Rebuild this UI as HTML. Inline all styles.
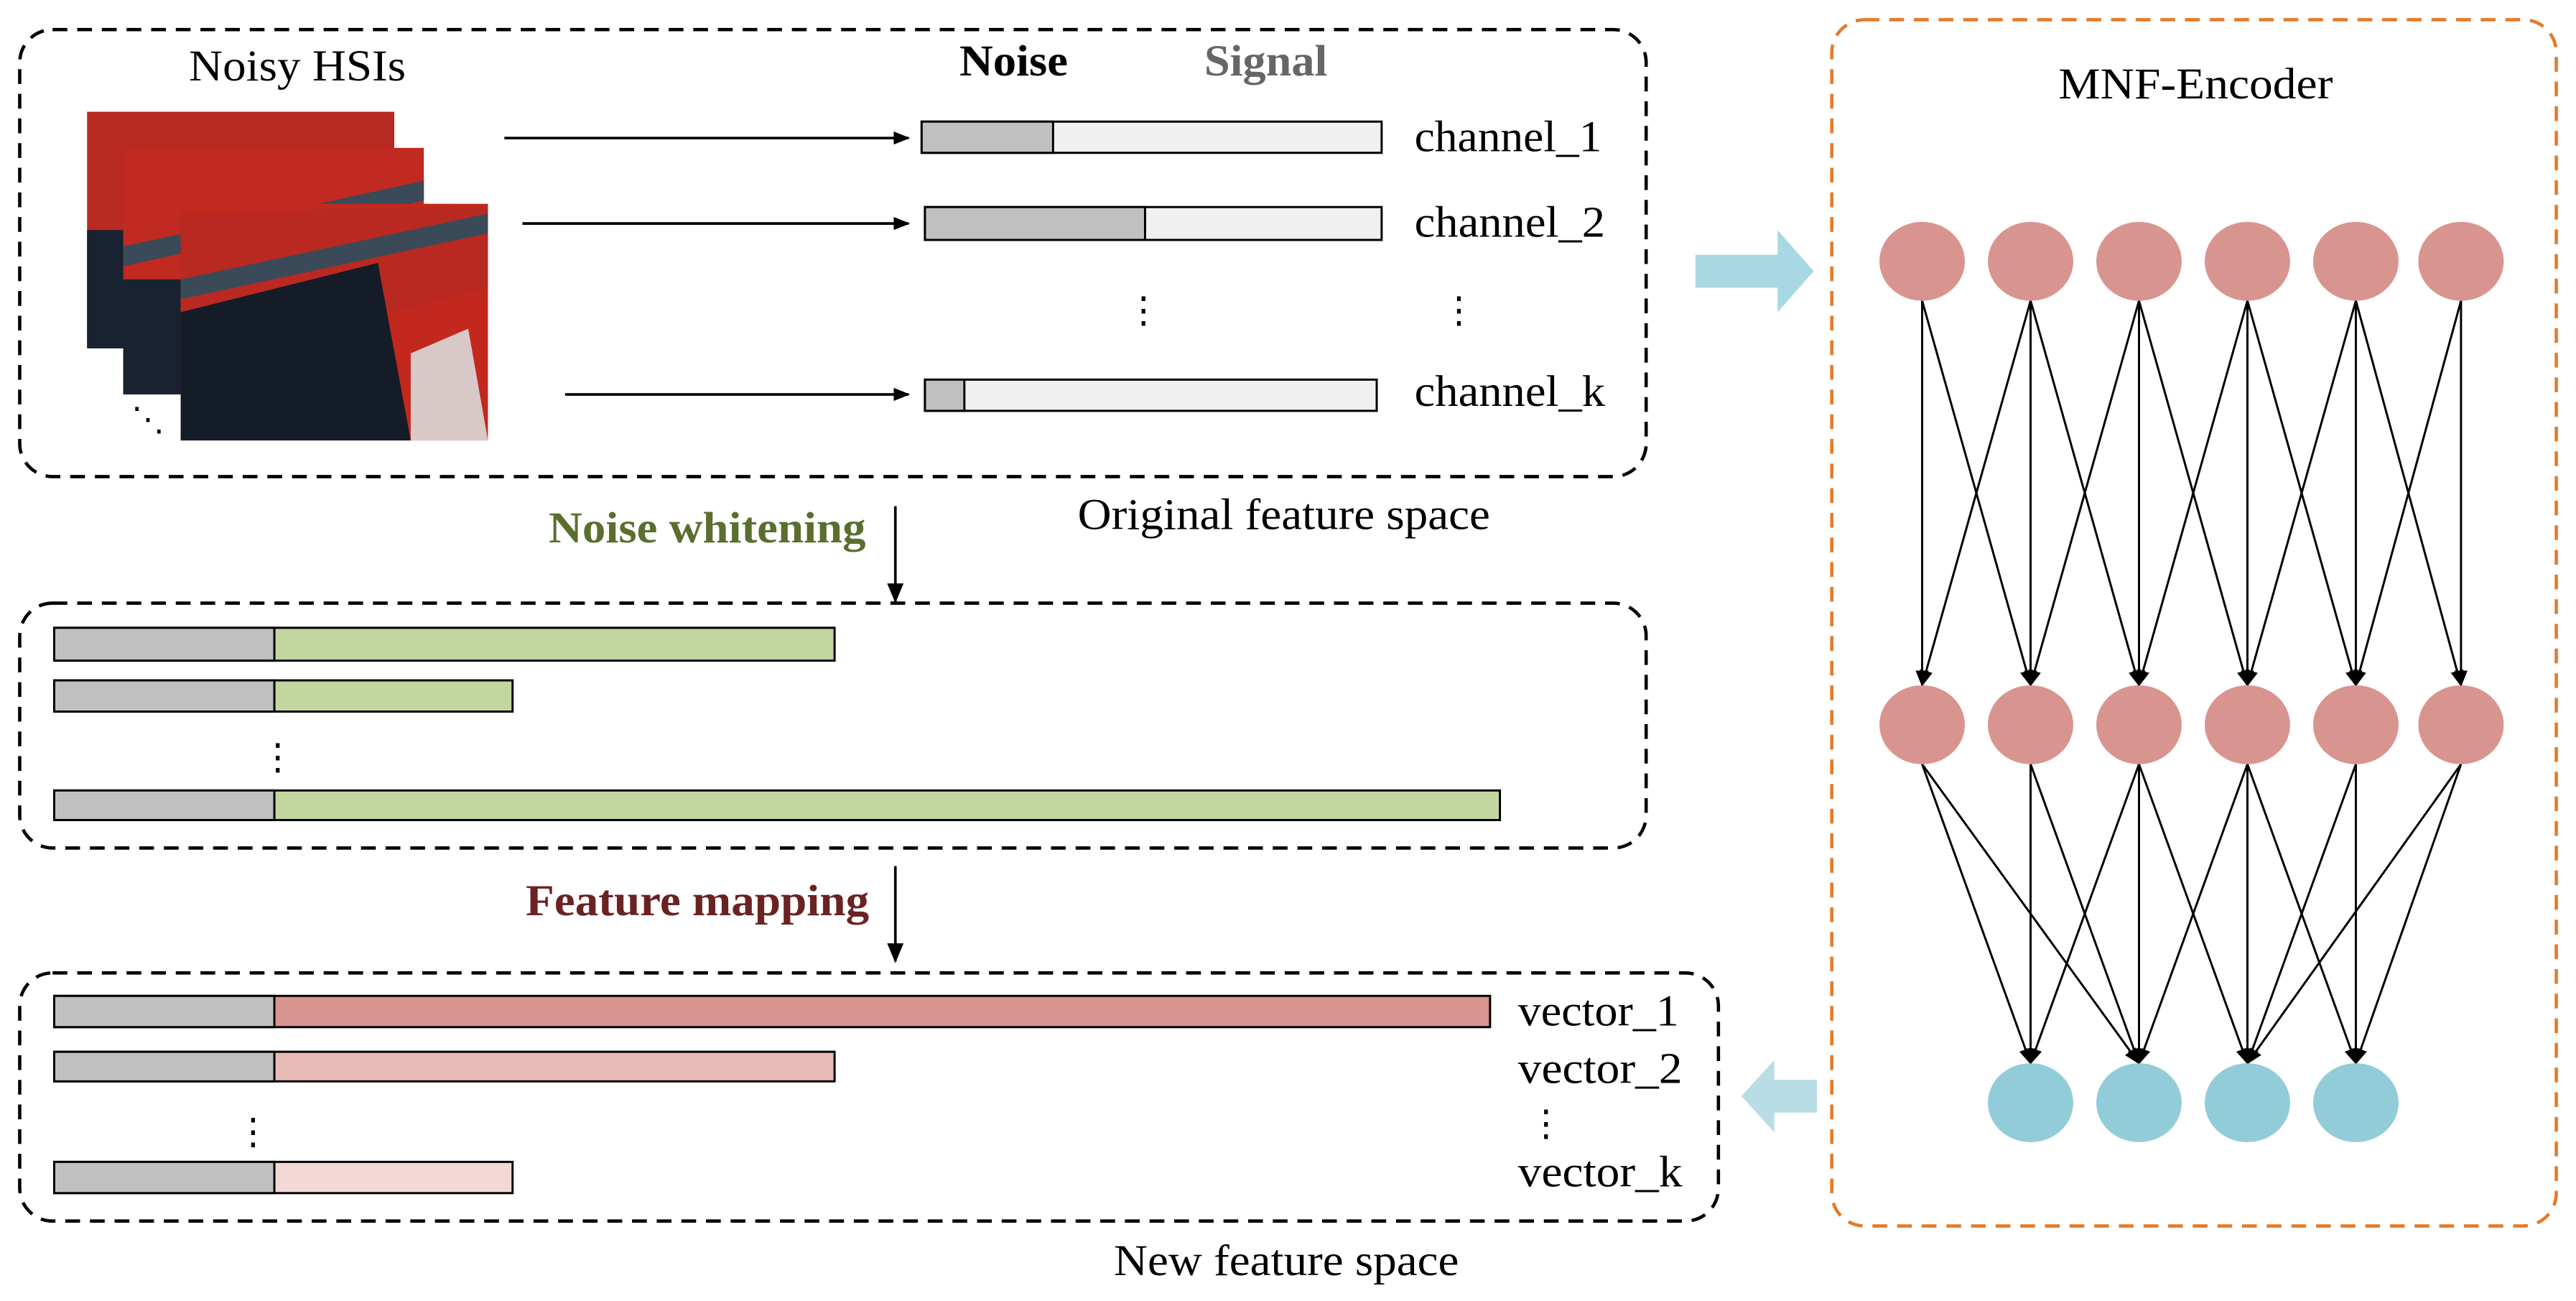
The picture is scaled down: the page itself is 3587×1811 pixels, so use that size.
<!DOCTYPE html>
<html><head><meta charset="utf-8"><style>html,body{margin:0;padding:0;background:#fff}svg{display:block}</style></head>
<body>
<svg width="3587" height="1811" viewBox="0 0 1568 791.65" preserveAspectRatio="none" xmlns="http://www.w3.org/2000/svg" font-family="Liberation Serif, serif">
<defs>
<marker id="ah" markerWidth="10" markerHeight="10" refX="9" refY="5" orient="auto" markerUnits="userSpaceOnUse"><path d="M0,1 L10,5 L0,9 Z" fill="#000"/></marker>
<marker id="ah2" markerWidth="12" markerHeight="10" refX="11" refY="5" orient="auto" markerUnits="userSpaceOnUse"><path d="M0,0 L12,5 L0,10 Z" fill="#000"/></marker>
</defs>
<g fill="none" stroke="#000" stroke-width="2" stroke-dasharray="9,6">
<rect x="12" y="18" width="990" height="272" rx="20"/>
<rect x="12" y="367" width="990" height="149" rx="20"/>
<rect x="12" y="592" width="1034" height="151" rx="20"/>
</g>
<rect x="1115" y="12" width="441" height="734" rx="20" fill="none" stroke="#e37b2a" stroke-width="2" stroke-dasharray="9,6"/>
<g font-size="27" lengthAdjust="spacingAndGlyphs">
<text x="115" y="49" textLength="132" lengthAdjust="spacingAndGlyphs">Noisy HSIs</text>
<text x="584" y="46" font-weight="bold" textLength="66" lengthAdjust="spacingAndGlyphs">Noise</text>
<text x="733" y="46" font-weight="bold" fill="#666" textLength="75" lengthAdjust="spacingAndGlyphs">Signal</text>
<text x="861" y="92" textLength="114" lengthAdjust="spacingAndGlyphs">channel_1</text>
<text x="861" y="144" textLength="116" lengthAdjust="spacingAndGlyphs">channel_2</text>
<text x="861" y="247" textLength="116" lengthAdjust="spacingAndGlyphs">channel_k</text>
<text x="656" y="322" textLength="251" lengthAdjust="spacingAndGlyphs">Original feature space</text>
<text x="678" y="776" textLength="210" lengthAdjust="spacingAndGlyphs">New feature space</text>
<text x="924" y="624" textLength="98" lengthAdjust="spacingAndGlyphs">vector_1</text>
<text x="924" y="659" textLength="100" lengthAdjust="spacingAndGlyphs">vector_2</text>
<text x="924" y="722" textLength="100" lengthAdjust="spacingAndGlyphs">vector_k</text>
<text x="1253" y="60" textLength="167" lengthAdjust="spacingAndGlyphs">MNF-Encoder</text>
<text x="334" y="330" font-weight="bold" fill="#5a6e2e" textLength="193" lengthAdjust="spacingAndGlyphs">Noise whitening</text>
<text x="320" y="557" font-weight="bold" fill="#6b2222" textLength="209" lengthAdjust="spacingAndGlyphs">Feature mapping</text>
</g>
<g font-size="22">
<text x="685" y="196">⋮</text>
<text x="877" y="196">⋮</text>
<text x="930" y="691">⋮</text>
<text x="158" y="468">⋮</text>
<text x="143" y="696">⋮</text>
</g>
<!-- images -->
<rect x="53" y="68" width="187" height="144" fill="#b82a22"/>
<rect x="53" y="140" width="30" height="72" fill="#182230"/>
<rect x="75" y="90" width="183" height="150" fill="#c02a20"/>
<path d="M75,150 L258,110 L258,122 L75,162 Z" fill="#3a4a58"/>
<rect x="75" y="170" width="35" height="70" fill="#182230"/>
<rect x="110" y="124" width="187" height="144" fill="#c3281e"/>
<path d="M110,130 L297,125 L297,175 L200,200 L110,200 Z" fill="#b52a22" opacity="0.7"/>
<path d="M110,170 L297,130 L297,142 L110,182 Z" fill="#3a4a58"/>
<path d="M110,190 L230,160 L250,268 L110,268 Z" fill="#141c28"/>
<path d="M250,215 L285,200 L297,268 L250,268 Z" fill="#d8c8c8"/>
<text x="80" y="262" font-size="20">⋱</text>
<g stroke="#000" stroke-width="1.6" marker-end="url(#ah)">
<line x1="307" y1="84" x2="553" y2="84"/>
<line x1="318" y1="136" x2="553" y2="136"/>
<line x1="344" y1="240" x2="553" y2="240"/>
</g>
<g stroke="#000" stroke-width="1.3">
<rect x="561" y="74" width="280" height="19" fill="#f0f0f0"/><rect x="561" y="74" width="80" height="19" fill="#c0c0c0"/>
<rect x="563" y="126" width="278" height="20" fill="#f0f0f0"/><rect x="563" y="126" width="134" height="20" fill="#c0c0c0"/>
<rect x="563" y="231" width="275" height="19" fill="#f0f0f0"/><rect x="563" y="231" width="24" height="19" fill="#c0c0c0"/>
</g>
<line x1="545" y1="308" x2="545" y2="366" stroke="#000" stroke-width="1.6" marker-end="url(#ah2)"/>
<line x1="545" y1="527" x2="545" y2="585" stroke="#000" stroke-width="1.6" marker-end="url(#ah2)"/>
<g stroke="#000" stroke-width="1.3">
<rect x="33" y="382" width="475" height="20" fill="#c4d6a0"/><rect x="33" y="382" width="134" height="20" fill="#c0c0c0"/>
<rect x="33" y="414" width="279" height="19" fill="#c4d6a0"/><rect x="33" y="414" width="134" height="19" fill="#c0c0c0"/>
<rect x="33" y="481" width="880" height="18" fill="#c4d6a0"/><rect x="33" y="481" width="134" height="18" fill="#c0c0c0"/>
<rect x="33" y="606" width="874" height="19" fill="#d9958f"/><rect x="33" y="606" width="134" height="19" fill="#c0c0c0"/>
<rect x="33" y="640" width="475" height="18" fill="#e8bab6"/><rect x="33" y="640" width="134" height="18" fill="#c0c0c0"/>
<rect x="33" y="707" width="279" height="19" fill="#f3d9d5"/><rect x="33" y="707" width="134" height="19" fill="#c0c0c0"/>
</g>
<path d="M1032,155 L1082,155 L1082,140 L1104,165 L1082,190 L1082,175 L1032,175 Z" fill="#a8d8e3"/>
<path d="M1106,657 L1080,657 L1080,645 L1060,667 L1080,689 L1080,677 L1106,677 Z" fill="#b8dde6"/>
<g stroke="#000" stroke-width="1.3" marker-end="url(#ah)">
<line x1="1170" y1="183" x2="1170" y2="417"/><line x1="1170" y1="183" x2="1236" y2="417"/>
<line x1="1236" y1="183" x2="1170" y2="417"/><line x1="1236" y1="183" x2="1236" y2="417"/><line x1="1236" y1="183" x2="1302" y2="417"/>
<line x1="1302" y1="183" x2="1236" y2="417"/><line x1="1302" y1="183" x2="1302" y2="417"/><line x1="1302" y1="183" x2="1368" y2="417"/>
<line x1="1368" y1="183" x2="1302" y2="417"/><line x1="1368" y1="183" x2="1368" y2="417"/><line x1="1368" y1="183" x2="1434" y2="417"/>
<line x1="1434" y1="183" x2="1368" y2="417"/><line x1="1434" y1="183" x2="1434" y2="417"/><line x1="1434" y1="183" x2="1498" y2="417"/>
<line x1="1498" y1="183" x2="1434" y2="417"/><line x1="1498" y1="183" x2="1498" y2="417"/>
<line x1="1170" y1="465" x2="1236" y2="647"/><line x1="1170" y1="465" x2="1302" y2="647"/>
<line x1="1236" y1="465" x2="1236" y2="647"/><line x1="1236" y1="465" x2="1302" y2="647"/>
<line x1="1302" y1="465" x2="1236" y2="647"/><line x1="1302" y1="465" x2="1302" y2="647"/><line x1="1302" y1="465" x2="1368" y2="647"/>
<line x1="1368" y1="465" x2="1302" y2="647"/><line x1="1368" y1="465" x2="1368" y2="647"/><line x1="1368" y1="465" x2="1434" y2="647"/>
<line x1="1434" y1="465" x2="1368" y2="647"/><line x1="1434" y1="465" x2="1434" y2="647"/>
<line x1="1498" y1="465" x2="1368" y2="647"/><line x1="1498" y1="465" x2="1434" y2="647"/>
</g>
<g fill="#d8958f">
<ellipse cx="1170" cy="159" rx="26" ry="24"/><ellipse cx="1236" cy="159" rx="26" ry="24"/><ellipse cx="1302" cy="159" rx="26" ry="24"/><ellipse cx="1368" cy="159" rx="26" ry="24"/><ellipse cx="1434" cy="159" rx="26" ry="24"/><ellipse cx="1498" cy="159" rx="26" ry="24"/>
<ellipse cx="1170" cy="441" rx="26" ry="24"/><ellipse cx="1236" cy="441" rx="26" ry="24"/><ellipse cx="1302" cy="441" rx="26" ry="24"/><ellipse cx="1368" cy="441" rx="26" ry="24"/><ellipse cx="1434" cy="441" rx="26" ry="24"/><ellipse cx="1498" cy="441" rx="26" ry="24"/>
</g>
<g fill="#93ccd9">
<ellipse cx="1236" cy="671" rx="26" ry="24"/><ellipse cx="1302" cy="671" rx="26" ry="24"/><ellipse cx="1368" cy="671" rx="26" ry="24"/><ellipse cx="1434" cy="671" rx="26" ry="24"/>
</g>
</svg>
</body></html>
